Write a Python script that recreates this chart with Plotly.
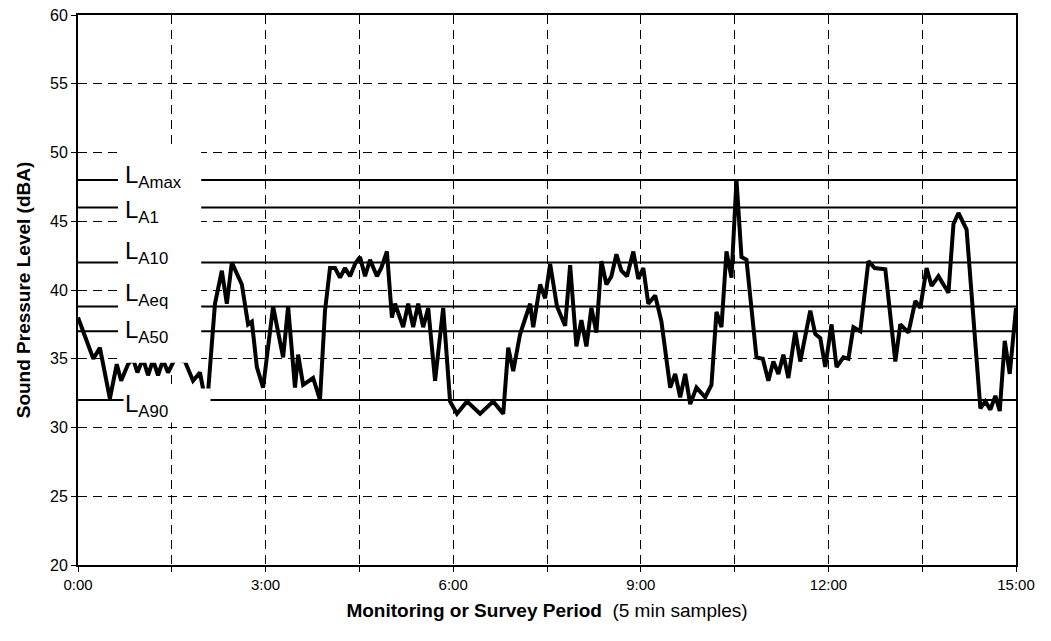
import plotly.graph_objects as go

# ---- data (hours since start, dBA) ----
sample_hours = [0.00, 0.12, 0.245, 0.35, 0.51, 0.62, 0.69, 0.80, 0.88, 0.95, 1.04, 1.12, 1.20, 1.28,
                1.36, 1.44, 1.55, 1.71, 1.84, 1.95, 2.06, 2.19, 2.30, 2.38, 2.46, 2.55, 2.62, 2.72,
                2.78, 2.86, 2.96, 3.12, 3.20, 3.28, 3.36, 3.47, 3.52, 3.60, 3.76, 3.87, 3.95, 4.03,
                4.11, 4.19, 4.27, 4.35, 4.43, 4.51, 4.59, 4.67, 4.78, 4.85, 4.94, 5.02, 5.07, 5.20,
                5.28, 5.36, 5.44, 5.52, 5.60, 5.71, 5.84, 5.95, 6.06, 6.22, 6.43, 6.64, 6.80, 6.88,
                6.96, 7.07, 7.23, 7.28, 7.39, 7.47, 7.55, 7.66, 7.79, 7.87, 7.97, 8.05, 8.13, 8.21,
                8.29, 8.37, 8.45, 8.53, 8.61, 8.69, 8.78, 8.88, 8.96, 9.04, 9.12, 9.23, 9.33, 9.47,
                9.55, 9.63, 9.71, 9.79, 9.89, 10.03, 10.13, 10.21, 10.29, 10.37, 10.45, 10.53, 10.61,
                10.69, 10.85, 10.95, 11.04, 11.12, 11.20, 11.28, 11.36, 11.47, 11.55, 11.71, 11.79,
                11.87, 11.95, 12.05, 12.13, 12.24, 12.32, 12.40, 12.51, 12.64, 12.74, 12.91, 13.07,
                13.15, 13.28, 13.39, 13.47, 13.57, 13.65, 13.76, 13.92, 14.00, 14.08, 14.21, 14.43,
                14.51, 14.59, 14.67, 14.74, 14.82, 14.90, 15.00]
spl_dba = [38.0, 36.6, 35.0, 35.8, 32.1, 34.6, 33.4, 34.6, 35.0, 34.0, 35.0, 33.8, 34.9, 33.8,
           34.9, 34.0, 35.0, 34.8, 33.4, 34.0, 31.4, 39.0, 41.4, 39.0, 42.0, 41.1, 40.4, 37.5,
           37.7, 34.4, 32.9, 38.8, 36.8, 35.1, 38.8, 32.9, 35.3, 33.1, 33.6, 32.0, 38.5, 41.6,
           41.6, 40.9, 41.6, 41.0, 41.9, 42.4, 41.0, 42.2, 41.0, 41.6, 42.8, 38.0, 39.0, 37.3,
           39.0, 37.3, 39.0, 37.3, 38.7, 33.4, 38.7, 31.9, 31.0, 31.9, 31.0, 31.9, 31.0, 35.8,
           34.1, 36.8, 39.0, 37.3, 40.4, 39.4, 41.9, 38.8, 37.4, 41.8, 35.9, 37.8, 35.9, 38.7,
           36.9, 42.1, 40.4, 41.0, 42.6, 41.4, 41.0, 42.8, 40.8, 41.6, 39.0, 39.6, 37.7, 32.9,
           33.9, 32.2, 33.9, 31.7, 32.9, 32.2, 33.1, 38.4, 37.3, 42.8, 40.9, 48.0, 42.4,
           42.2, 35.1, 35.0, 33.4, 34.8, 33.9, 35.3, 33.6, 37.0, 34.8, 38.5, 36.8,
           36.5, 34.4, 37.5, 34.4, 35.1, 35.0, 37.3, 37.0, 42.1, 41.6, 41.5, 34.8,
           37.5, 36.9, 39.2, 38.7, 41.6, 40.3, 41.0, 39.8, 44.8, 45.6, 44.4, 31.4,
           31.9, 31.3, 32.3, 31.2, 36.3, 33.9, 38.7]

stat_names = ["Amax", "A1", "A10", "Aeq", "A50", "A90"]
stat_values = [48.0, 46.0, 42.0, 38.8, 37.0, 32.0]

x_tick_hours = [0, 1.5, 3, 4.5, 6, 7.5, 9, 10.5, 12, 13.5, 15]
x_tick_text = ["0:00", "", "3:00", "", "6:00", "", "9:00", "", "12:00", "", "15:00"]

# ---- styling ----
label_shift = {"Amax": 4, "A1": -4, "A10": 10, "Aeq": 12, "A50": 0, "A90": -5}
FONT = "Liberation Sans, Arial, sans-serif"

fig = go.Figure()

for name, val in zip(stat_names, stat_values):
    fig.add_trace(go.Scatter(x=[0, 15], y=[val, val], mode="lines",
                             line=dict(color="black", width=2), hoverinfo="skip",
                             showlegend=False))

fig.add_trace(go.Scatter(x=sample_hours, y=spl_dba, mode="lines",
                         line=dict(color="black", width=4), showlegend=False))

# white label panel
fig.add_shape(type="rect", xref="x", yref="y", x0=0.64, x1=1.97, y0=34.7, y1=50.35,
              fillcolor="white", line=dict(width=0), layer="above")

for name, val in zip(stat_names, stat_values):
    fig.add_annotation(x=0.72, y=val, xref="x", yref="y", xanchor="left", yanchor="middle",
                       text="L<sub>" + name + "</sub>", showarrow=False,
                       yshift=label_shift[name], width=84, align="left",
                       bgcolor="white" if name == "A90" else "rgba(0,0,0,0)",
                       font=dict(family=FONT, size=24, color="black"))

fig.update_layout(
    width=1051, height=641,
    margin=dict(l=78, r=35, t=15, b=76),
    paper_bgcolor="white", plot_bgcolor="white",
    font=dict(family=FONT, size=15, color="black"),
    xaxis=dict(range=[0, 15], tickmode="array", tickvals=x_tick_hours, ticktext=x_tick_text,
               showgrid=True, gridcolor="black", gridwidth=1.3, griddash="9px,6px",
               showline=True, linecolor="black", linewidth=2, mirror=True,
               ticks="outside", ticklen=5, tickcolor="black", zeroline=False,
               automargin=False, tickfont=dict(size=15), ticklabeloverflow="allow",
               title=dict(text="<b>Monitoring or Survey Period</b>  (5 min samples)",
                          font=dict(size=19), standoff=12)),
    yaxis=dict(range=[20, 60], dtick=5, tick0=20,
               showgrid=True, gridcolor="black", gridwidth=1.3, griddash="9px,6px",
               showline=True, linecolor="black", linewidth=2, mirror=True,
               ticks="outside", ticklen=5, tickcolor="black", zeroline=False,
               automargin=False, tickfont=dict(size=16), ticklabeloverflow="allow",
               title=dict(text="<b>Sound Pressure Level (dBA)</b>", font=dict(size=19),
                          standoff=14)),
)

# remove the default 8px page margin so the figure fills the window exactly
fig.write_html("out.html", config={"displayModeBar": False},
               post_script="document.body.style.margin='0';")
